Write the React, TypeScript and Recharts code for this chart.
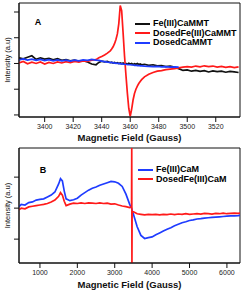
import { LineChart, Line, XAxis, YAxis, ReferenceArea, Legend } from "recharts";

// panel A: narrow scan around g≈2
const fieldA = [
  3382, 3385, 3388, 3391, 3394, 3397, 3400, 3403, 3406, 3409, 3412, 3415, 3418, 3421, 3424, 3427, 3430, 3433, 3436,
  3438, 3440, 3442, 3444, 3446, 3447, 3448, 3449, 3450, 3451, 3452, 3453, 3454, 3455, 3456, 3457, 3458, 3459, 3460,
  3461, 3462, 3463, 3464, 3465, 3466, 3467, 3468, 3470,
  3473, 3476, 3479, 3482, 3485, 3488, 3491, 3494, 3497, 3500, 3503, 3506, 3509, 3512, 3515, 3518, 3521, 3524, 3527,
  3530, 3533, 3536,
];
const feCaMMT = [
  0.22, 0.18, 0.24, 0.3, 0.16, 0.22, 0.17, 0.2, 0.14, 0.19, 0.12, 0.15, 0.1, 0.13, 0.08, 0.11, 0.06, -0.02, -0.05,
  0.04, 0.09, 0.06, 0.08, 0.03, 0.05, 0.02, 0.04, 0.01, 0.03, 0.0, 0.02, -0.01, 0.02, -0.02, 0.0, -0.03, 0.01, -0.02,
  0.0, -0.04, -0.01, -0.03, 0.0, -0.04, -0.02, -0.05, -0.03,
  -0.07, -0.05, -0.09, -0.08, -0.12, -0.1, -0.14, -0.2, -0.27, -0.25, -0.3, -0.27, -0.31, -0.28, -0.33, -0.29, -0.32,
  -0.3, -0.34, -0.31, -0.33, -0.35,
];
const dosedFeCaMMT = [
  0.02, 0.08, -0.01, 0.05, 0.0, 0.06, -0.02, 0.04, 0.0, 0.06, 0.02, 0.07, 0.03, 0.08, 0.05, 0.1, 0.08, 0.13, 0.15,
  0.22, 0.27, 0.33, 0.4, 0.49, 0.56, 0.65, 0.77, 0.93, 1.15, 1.55, 2.25, 2.05, 1.2, 0.3, -0.45, -1.15, -1.75, -2.05,
  -1.78, -1.42, -1.17, -1.0, -0.88, -0.78, -0.7, -0.63, -0.52,
  -0.42, -0.35, -0.3, -0.28, -0.24, -0.22, -0.2, -0.17, -0.14, -0.12, -0.14, -0.1, -0.13, -0.09, -0.12, -0.1, -0.14,
  -0.11, -0.15, -0.12, -0.16, -0.13,
];
const dosedCaMMT = [
  0.14, 0.18, 0.13, 0.17, 0.12, 0.16, 0.11, 0.15, 0.1, 0.14, 0.1, 0.13, 0.09, 0.13, 0.1, 0.14, 0.12, 0.16, 0.13,
  0.12, 0.09, 0.07, 0.05, 0.04, 0.03, 0.03, 0.01, 0.01, 0.0, 0.0, -0.02, -0.01, -0.03, -0.03, -0.04, -0.04, -0.05, -0.05,
  -0.06, -0.06, -0.07, -0.07, -0.08, -0.08, -0.09, -0.09, -0.1,
  -0.11, -0.12, -0.11, -0.13, -0.12, -0.14, -0.13, -0.14, null, null, null, null, null, null, null, null, null,
  null, null, null, null, null,
];
const ticksA = [3400, 3420, 3440, 3460, 3480, 3500, 3520];

// panel B: wide scan
const fieldB = [
  440, 500, 600, 700, 800, 900, 1000, 1100, 1200, 1300, 1400, 1500, 1550, 1600, 1650, 1700, 1800, 1900, 2000, 2100,
  2200, 2300, 2400, 2500, 2600, 2700, 2800, 2900, 3000, 3100, 3200, 3300, 3400, 3450, 3455, 3460, 3465, 3500, 3600,
  3700, 3800, 3900, 4000, 4100, 4200, 4300, 4400, 4500, 4600, 4700, 4800, 4900, 5000, 5100, 5200, 5300, 5400, 5500,
  5600, 5700, 5800, 5900, 6000, 6100, 6200, 6300, 6350,
];
const feCaM = [
  0.05, 0.12, 0.1, 0.18, 0.2, 0.26, 0.28, 0.3, 0.36, 0.42, 0.52, 0.78, 0.95, 0.88, 0.55, 0.3, 0.24, 0.27, 0.32, 0.42,
  0.5, 0.58, 0.64, 0.68, 0.74, 0.78, 0.82, 0.86, 0.85, 0.8, 0.7, 0.45, 0.12, 0.0, -0.02, -0.05, -0.08, -0.2, -0.6,
  -0.88, -0.98, -0.95, -0.93, -0.86, -0.8, -0.74, -0.68, -0.63, -0.57, -0.52, -0.47, -0.44, -0.4, -0.38, -0.35, -0.34,
  -0.32, -0.31, -0.3, -0.29, -0.28, -0.27, -0.26, -0.25, -0.25, -0.24, -0.23,
];
const dosedFeCaM = [
  -0.05, 0.0, -0.02, 0.04, 0.06, 0.08, 0.1, 0.12, 0.15, 0.2, 0.26, 0.38, 0.5, 0.42, 0.22, 0.08, 0.13, 0.16, 0.15,
  0.17, 0.15, 0.17, 0.16, 0.15, 0.17, 0.15, 0.16, 0.13, 0.14, 0.1, 0.07, 0.05, 0.02, 0.05, 1.94, -1.77, -0.1, -0.12,
  -0.18, -0.2, -0.22, -0.2, -0.21, -0.2, -0.22, -0.2, -0.21, -0.19, -0.21, -0.19, -0.2, -0.18, -0.2, -0.19, -0.18,
  -0.19, -0.17, -0.18, -0.19, -0.17, -0.18, -0.16, -0.18, -0.17, -0.16, -0.17, -0.16,
];
const ticksB = [1000, 2000, 3000, 4000, 5000, 6000];

const dataA = fieldA.map((x, i) => ({ x, fe: feCaMMT[i], dosedFe: dosedFeCaMMT[i], dosedCa: dosedCaMMT[i] }));
const dataB = fieldB.map((x, i) => ({ x, fe: feCaM[i], dosedFe: dosedFeCaM[i] }));

const domA: [number, number] = [3382, 3537];
const yDomA: [number, number] = [-2.08, 2.35];
const domB: [number, number] = [440, 6350];
const yDomB: [number, number] = [-1.77, 1.94];

const FONT = "'Liberation Sans', Arial, sans-serif";
const BLACK = "#111";
const RED = "#ff1a1a";
const BLUE = "#1f3cff";

function LegendBox({ items }: { items: { label: string; color: string }[] }) {
  return (
    <div style={{ fontFamily: FONT, fontSize: 9, fontWeight: "bold", lineHeight: "9.5px" }}>
      {items.map((it) => (
        <div key={it.label} style={{ display: "flex", alignItems: "center", height: 9.5 }}>
          <div style={{ width: 15, height: 2, background: it.color, marginRight: 3 }} />
          <span>{it.label}</span>
        </div>
      ))}
    </div>
  );
}

const axisProps = {
  stroke: BLACK,
  tickSize: 5,
  tick: { fontSize: 7, fill: "#222", fontFamily: FONT },
};

export default function App() {
  return (
    <div style={{ position: "absolute", top: 0, left: 0, width: 247, height: 291, background: "#fff" }}>
      <LineChart width={247} height={145} data={dataA} margin={{ top: 3, right: 7, bottom: 0, left: 0 }}>
        <XAxis
          dataKey="x"
          type="number"
          domain={domA}
          ticks={ticksA}
          allowDataOverflow
          height={28}
          {...axisProps}
          label={{ value: "Magnetic Field (Gauss)", position: "insideBottom", offset: 4, fontSize: 9.5, fontWeight: "bold", fill: BLACK, fontFamily: FONT }}
        />
        <YAxis
          type="number"
          domain={yDomA}
          ticks={[-2, -1, 0, 1, 2]}
          allowDataOverflow
          width={19}
          {...axisProps}
          tickFormatter={() => ""}
          label={{ value: "Intensity (a.u)", angle: -90, position: "insideLeft", offset: 7, fontSize: 7.5, fill: BLACK, fontFamily: FONT, style: { textAnchor: "middle" } }}
        />
        <ReferenceArea x1={domA[0]} x2={domA[1]} y1={yDomA[0]} y2={yDomA[1]} fill="none" stroke={BLACK} strokeWidth={1} ifOverflow="visible" />
        <Line dataKey="fe" stroke={BLACK} strokeWidth={1.7} dot={false} isAnimationActive={false} />
        <Line dataKey="dosedFe" stroke={RED} strokeWidth={1.7} dot={false} isAnimationActive={false} />
        <Line dataKey="dosedCa" stroke={BLUE} strokeWidth={1.7} dot={false} isAnimationActive={false} />
        <text x={38} y={25} fontSize={9} fontWeight="bold" fontFamily={FONT} textAnchor="middle">A</text>
        <Legend
          layout="vertical"
          align="center"
          verticalAlign="middle"
          wrapperStyle={{ top: 19, left: 135, width: "auto" }}
          content={() => (
            <LegendBox
              items={[
                { label: "Fe(III)CaMMT", color: BLACK },
                { label: "DosedFe(III)CaMMT", color: RED },
                { label: "DosedCaMMT", color: BLUE },
              ]}
            />
          )}
        />
      </LineChart>
      <LineChart width={247} height={146} data={dataB} margin={{ top: 3, right: 7, bottom: 0, left: 0 }}>
        <XAxis
          dataKey="x"
          type="number"
          domain={domB}
          ticks={ticksB}
          allowDataOverflow
          height={28}
          {...axisProps}
          label={{ value: "Magnetic Field (Gauss)", position: "insideBottom", offset: 3, fontSize: 9.5, fontWeight: "bold", fill: BLACK, fontFamily: FONT }}
        />
        <YAxis
          type="number"
          domain={yDomB}
          ticks={[-1, 0, 1]}
          allowDataOverflow
          width={19}
          {...axisProps}
          tickFormatter={() => ""}
          label={{ value: "Intensity (a.u)", angle: -90, position: "insideLeft", offset: 7, fontSize: 7.5, fill: BLACK, fontFamily: FONT, style: { textAnchor: "middle" } }}
        />
        <ReferenceArea x1={domB[0]} x2={domB[1]} y1={yDomB[0]} y2={yDomB[1]} fill="none" stroke={BLACK} strokeWidth={1} ifOverflow="visible" />
        <Line dataKey="fe" stroke={BLUE} strokeWidth={1.7} dot={false} isAnimationActive={false} />
        <Line dataKey="dosedFe" stroke={RED} strokeWidth={1.7} dot={false} isAnimationActive={false} />
        <text x={43} y={28} fontSize={9} fontWeight="bold" fontFamily={FONT} textAnchor="middle">B</text>
        <Legend
          layout="vertical"
          align="center"
          verticalAlign="middle"
          wrapperStyle={{ top: 20, left: 138, width: "auto" }}
          content={() => (
            <LegendBox
              items={[
                { label: "Fe(III)CaM", color: BLUE },
                { label: "DosedFe(III)CaM", color: RED },
              ]}
            />
          )}
        />
      </LineChart>
    </div>
  );
}
